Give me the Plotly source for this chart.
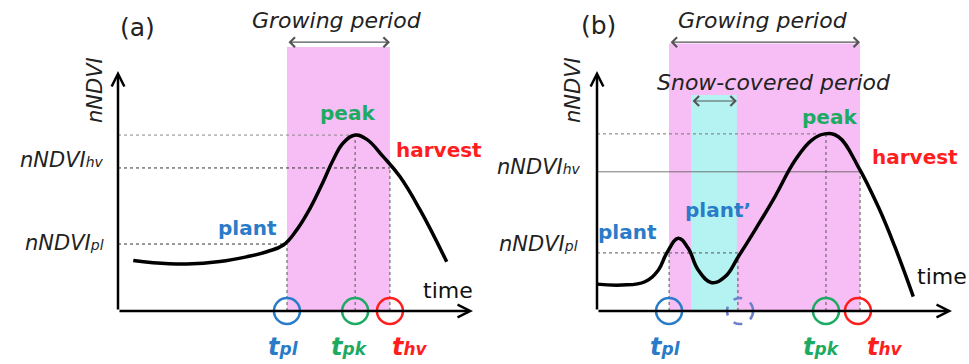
import plotly.graph_objects as go

# ---------------- data : panel (a) ----------------
a_time = [4.3, 9.9, 19.4, 28.7, 36.3, 41.9, 46.6, 50.3, 54.1, 57.8, 60.6, 63.5, 66.8, 70.1, 74.7, 79.4, 85.1, 92.6]
a_ndvi = [0.210, 0.201, 0.196, 0.206, 0.226, 0.247, 0.275, 0.337, 0.428, 0.539, 0.629, 0.701, 0.733, 0.715, 0.643, 0.560, 0.421, 0.205]
a_t_pl, a_t_pk, a_t_hv = 47.6, 66.8, 76.6
a_v_pl, a_v_pk, a_v_hv = 0.279, 0.733, 0.596

# ---------------- data : panel (b) ----------------
b_time = [0.0, 7.0, 13.5, 17.3, 19.6, 22.9, 25.7, 28.5, 32.3, 36.1, 39.8, 44.5, 50.1, 55.8, 60.5, 64.2, 68.0, 73.6, 79.2, 83.9, 89.1]
b_ndvi = [0.112, 0.108, 0.122, 0.171, 0.240, 0.303, 0.261, 0.171, 0.118, 0.143, 0.226, 0.337, 0.476, 0.628, 0.712, 0.738, 0.726, 0.601, 0.435, 0.268, 0.060]
b_t_pl, b_t_pl2, b_t_pk, b_t_hv = 20.3, 39.7, 64.5, 74.1
b_snow_start, b_snow_end = 26.5, 39.4
b_v_pl, b_v_pk, b_v_hv = 0.242, 0.738, 0.580

# ---------------- styling / layout constants ----------------
W, H = 969, 364
PX_PER_T = 3.55
PX_PER_V = 240.0
ORIGIN_Y_PX = 311
ORIGIN_A_PX, ORIGIN_B_PX = 118, 597
SPLIT_PX = 480
T_END, V_END = 100, 1.0
GROW_TOP_A, GROW_TOP_B = 1.10, 1.115
GROW_ARROW_V = 1.12
SNOW_TOP, SNOW_ARROW_V = 0.90, 0.875

PINK = "#F6BEF4"
CYAN = "#B4F3F2"
BLUE = "#2A7BC8"
GREEN = "#1DAA62"
RED = "#FF1E1E"
DASHBLUE = "#6C80CC"
FONT = "DejaVu Sans"


def xrange_for(origin_px, left_px, right_px):
    return [(left_px - origin_px) / PX_PER_T, (right_px - origin_px) / PX_PER_T]


yrange = [(ORIGIN_Y_PX - H) / PX_PER_V, ORIGIN_Y_PX / PX_PER_V]

fig = go.Figure()
fig.add_trace(go.Scatter(x=a_time, y=a_ndvi, mode="lines", xaxis="x", yaxis="y",
                         line=dict(color="black", width=3.5, shape="spline", smoothing=1.2),
                         hoverinfo="skip", showlegend=False))
fig.add_trace(go.Scatter(x=b_time, y=b_ndvi, mode="lines", xaxis="x2", yaxis="y2",
                         line=dict(color="black", width=3.5, shape="spline", smoothing=1.2),
                         hoverinfo="skip", showlegend=False))

shapes = []
annotations = []


def rect(xr, yr, x0, x1, y0, y1, color):
    shapes.append(dict(type="rect", xref=xr, yref=yr, x0=x0, x1=x1, y0=y0, y1=y1,
                       fillcolor=color, line=dict(width=0), layer="below"))


def line(xr, yr, x0, y0, x1, y1, color="#444", dash="dot", width=1):
    shapes.append(dict(type="line", xref=xr, yref=yr, x0=x0, y0=y0, x1=x1, y1=y1,
                       line=dict(color=color, width=width, dash=dash), layer="below"))


def circle(xr, yr, t, color, dash="solid"):
    shapes.append(dict(type="circle", xref=xr, yref=yr, xsizemode="pixel", ysizemode="pixel",
                       xanchor=t, yanchor=0, x0=-13, x1=13, y0=-13, y1=13,
                       line=dict(color=color, width=2.5, dash=dash), layer="above"))


def arrow(xr, yr, x0, y0, x1, y1, width=2.5, color="black", both=False, head=5, size=1.0):
    d = dict(xref=xr, yref=yr, axref=xr, ayref=yr, x=x1, y=y1, ax=x0, ay=y0, text="",
             showarrow=True, arrowhead=head, arrowsize=size, arrowwidth=width,
             arrowcolor=color, standoff=0, startstandoff=0)
    if both:
        d.update(arrowside="end+start", startarrowhead=head, startarrowsize=size)
    annotations.append(d)


def text(xr, yr, x, y, s, size, color="black", xshift=0, yshift=0, xanchor="center",
         angle=0):
    annotations.append(dict(xref=xr, yref=yr, x=x, y=y, text=s, showarrow=False,
                            xshift=xshift, yshift=yshift, xanchor=xanchor, yanchor="middle",
                            textangle=angle, font=dict(family=FONT, size=size, color=color)))


def ylab(sub):
    return "<i>nNDVI</i><i><span style='font-size:14px'>%s</span></i>" % sub


def tlab(sub):
    return "<b><i>t</i></b><b><i><span style='font-size:17px'>%s</span></i></b>" % sub


# ---------------- panel (a) ----------------
xa, ya = "x", "y"
rect(xa, ya, a_t_pl, a_t_hv, 0, GROW_TOP_A, PINK)
line(xa, ya, 0, a_v_pk, a_t_pk, a_v_pk, color="#888")
line(xa, ya, 0, a_v_hv, a_t_hv, a_v_hv, color="#333")
line(xa, ya, 0, a_v_pl, a_t_pl, a_v_pl, color="#333")
line(xa, ya, a_t_pl, 0, a_t_pl, a_v_pl, color="#555")
line(xa, ya, a_t_pk, 0, a_t_pk, a_v_pk, color="#555")
line(xa, ya, a_t_hv, 0, a_t_hv, a_v_hv, color="#555")
circle(xa, ya, a_t_pl, BLUE)
circle(xa, ya, a_t_pk, GREEN)
circle(xa, ya, a_t_hv, RED)
arrow(xa, ya, 0, 0, 0, V_END)
arrow(xa, ya, 0, 0, T_END, 0)
arrow(xa, ya, a_t_pl, GROW_ARROW_V, a_t_hv, GROW_ARROW_V, width=1.2, color="#555",
      both=True, head=4, size=1.6)

text(xa, ya, (a_t_pl + a_t_hv) / 2, GROW_ARROW_V, "<i>Growing period</i>", 22, "#222",
     xshift=-1, yshift=22)
text(xa, ya, 0, V_END, "(a)", 25, "#222", xshift=19, yshift=44)
text(xa, ya, 0, V_END, "<i>nNDVI</i>", 21, "#222", xshift=-23, yshift=-19, angle=-90)
text(xa, ya, 0, a_v_hv, ylab("hv"), 21, "#222", xshift=-12, yshift=8, xanchor="right")
text(xa, ya, 0, a_v_pl, ylab("pl"), 21, "#222", xshift=-12, yshift=1, xanchor="right")
text(xa, ya, a_t_pk, a_v_pk, "<b>peak</b>", 20, GREEN, xshift=-8, yshift=22)
text(xa, ya, a_t_hv, a_v_hv, "<b>harvest</b>", 20, RED, xshift=4, yshift=18, xanchor="left")
text(xa, ya, a_t_pl, a_v_pl, "<b>plant</b>", 20, BLUE, xshift=-39, yshift=16)
text(xa, ya, T_END, 0, "time", 22, "#111", xshift=-25, yshift=21)
text(xa, ya, a_t_pl, 0, tlab("pl"), 24, BLUE, xshift=-3, yshift=-36)
text(xa, ya, a_t_pk, 0, tlab("pk"), 24, GREEN, xshift=-6, yshift=-36)
text(xa, ya, a_t_hv, 0, tlab("hv"), 24, RED, xshift=20, yshift=-36)

# ---------------- panel (b) ----------------
xb, yb = "x2", "y2"
rect(xb, yb, b_t_pl, b_t_hv, 0, GROW_TOP_B, PINK)
rect(xb, yb, b_snow_start, b_snow_end, 0, SNOW_TOP, CYAN)
line(xb, yb, 0, b_v_pk, b_t_pk, b_v_pk, color="#777")
line(xb, yb, 0, b_v_hv, b_t_hv, b_v_hv, color="#555", dash="solid", width=0.8)
line(xb, yb, 0, b_v_pl, b_t_pl2, b_v_pl, color="#555")
line(xb, yb, b_t_pl, 0, b_t_pl, b_v_pl, color="#555")
line(xb, yb, b_t_pl2, 0, b_t_pl2, b_v_pl, color="#555")
line(xb, yb, b_t_pk, 0, b_t_pk, b_v_pk, color="#555")
line(xb, yb, b_t_hv, 0, b_t_hv, b_v_hv, color="#555")
circle(xb, yb, b_t_pl, BLUE)
circle(xb, yb, b_t_pl2 + 0.6, DASHBLUE, dash="dash")
circle(xb, yb, b_t_pk, GREEN)
circle(xb, yb, b_t_hv - 0.6, RED)
arrow(xb, yb, 0, 0, 0, V_END)
arrow(xb, yb, 0, 0, T_END, 0)
arrow(xb, yb, b_t_pl, GROW_ARROW_V, b_t_hv, GROW_ARROW_V, width=1.2, color="#555",
      both=True, head=4, size=1.6)
arrow(xb, yb, b_snow_start, SNOW_ARROW_V, b_snow_end, SNOW_ARROW_V, width=1.2, color="#555",
      both=True, head=4, size=1.6)

text(xb, yb, (b_t_pl + b_t_hv) / 2, GROW_ARROW_V, "<i>Growing period</i>", 22, "#222",
     xshift=-2, yshift=22)
text(xb, yb, (b_snow_start + b_snow_end) / 2, SNOW_ARROW_V, "<i>Snow-covered period</i>", 22,
     "#222", xshift=60, yshift=19)
text(xb, yb, 0, V_END, "(b)", 25, "#222", xshift=1, yshift=46)
text(xb, yb, 0, V_END, "<i>nNDVI</i>", 21, "#222", xshift=-24, yshift=-19, angle=-90)
text(xb, yb, 0, b_v_hv, ylab("hv"), 21, "#222", xshift=-14, yshift=5, xanchor="right")
text(xb, yb, 0, b_v_pl, ylab("pl"), 21, "#222", xshift=-17, yshift=9, xanchor="right")
text(xb, yb, b_t_pk, b_v_pk, "<b>peak</b>", 20, GREEN, xshift=4, yshift=17)
text(xb, yb, b_t_hv, b_v_hv, "<b>harvest</b>", 20, RED, xshift=10, yshift=15, xanchor="left")
text(xb, yb, b_t_pl, b_v_pl, "<b>plant</b>", 20, BLUE, xshift=-42, yshift=21)
text(xb, yb, b_t_pl2, b_v_pl, "<b>plant’</b>", 20, BLUE, xshift=-20, yshift=43)
text(xb, yb, T_END, 0, "time", 22, "#111", xshift=-10, yshift=35)
text(xb, yb, b_t_pl, 0, tlab("pl"), 24, BLUE, xshift=-4, yshift=-36)
text(xb, yb, b_t_pk, 0, tlab("pk"), 24, GREEN, xshift=-4, yshift=-36)
text(xb, yb, b_t_hv, 0, tlab("hv"), 24, RED, xshift=25, yshift=-36)

hidden = dict(visible=False, showgrid=False, zeroline=False, fixedrange=True)
fig.update_layout(
    width=W, height=H, margin=dict(l=0, r=0, t=0, b=0),
    paper_bgcolor="white", plot_bgcolor="white", showlegend=False,
    xaxis=dict(domain=[0, SPLIT_PX / W], range=xrange_for(ORIGIN_A_PX, 0, SPLIT_PX),
               anchor="y", **hidden),
    yaxis=dict(domain=[0, 1], range=yrange, anchor="x", **hidden),
    xaxis2=dict(domain=[SPLIT_PX / W, 1], range=xrange_for(ORIGIN_B_PX, SPLIT_PX, W),
                anchor="y2", **hidden),
    yaxis2=dict(domain=[0, 1], range=yrange, anchor="x2", **hidden),
    shapes=shapes, annotations=annotations,
)

fig.write_html("out.html")
